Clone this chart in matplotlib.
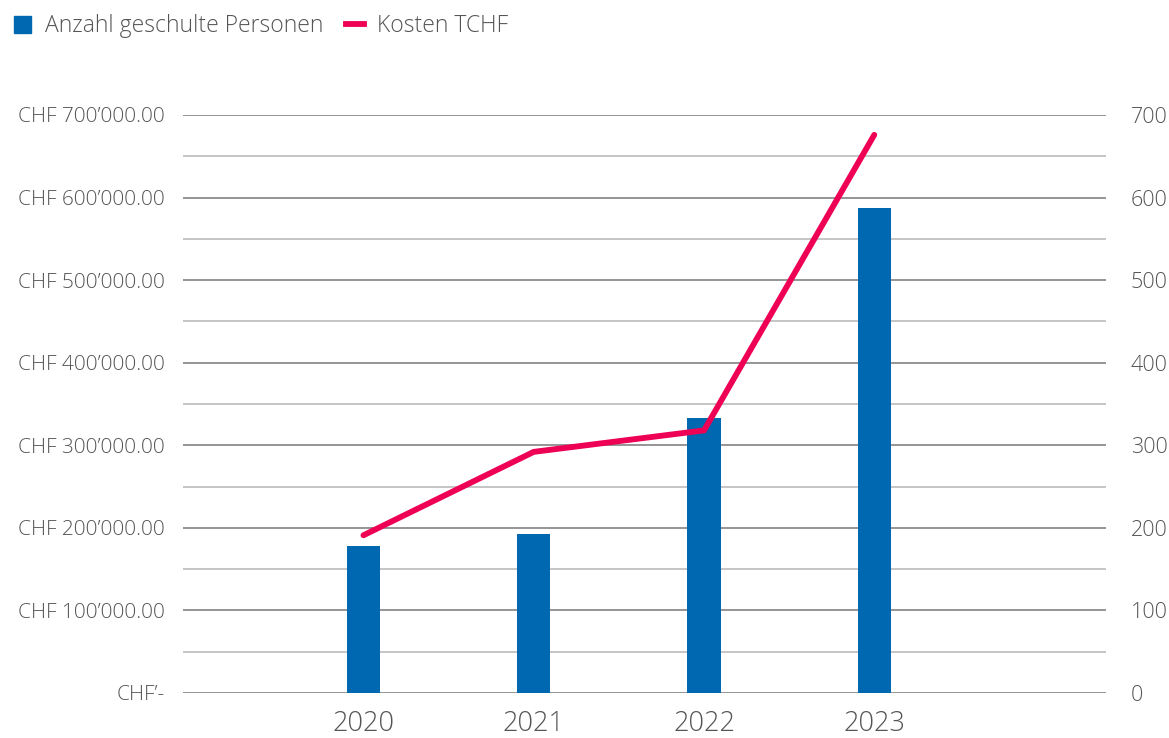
import numpy as np
import matplotlib.pyplot as plt
from matplotlib.ticker import FuncFormatter, MultipleLocator
from matplotlib.patches import Patch
from matplotlib.lines import Line2D

plt.rcParams['font.family'] = ['Open Sans', 'DejaVu Sans']
plt.rcParams['font.weight'] = 'light'

years = ['2020', '2021', '2022', '2023']
personen = [178, 193, 333, 587]
kosten = [191000, 292000, 318000, 676000]

blue = '#0067B1'
pink = '#EE0055'
grey_txt = '#555555'

fig = plt.figure(figsize=(11.69, 7.38), dpi=100)
ax2 = fig.add_axes([0.1565, 0.061, 0.7895, 0.7832])
ax = ax2.twinx()
ax.yaxis.tick_left()
ax2.yaxis.tick_right()
ax.set_zorder(ax2.get_zorder() + 1)
ax.patch.set_visible(False)

x = np.arange(len(years))
ax2.bar(x, personen, width=0.194, color=blue, zorder=3)
ax.plot(x, kosten, color=pink, lw=4.2, solid_capstyle='round', solid_joinstyle='miter')

ax2.set_ylim(0, 700)
ax.set_ylim(0, 700000)
ax2.set_xlim(-1.06, 4.36)

ax2.yaxis.set_major_locator(MultipleLocator(100))
ax2.yaxis.set_minor_locator(MultipleLocator(50))
ax.yaxis.set_major_locator(MultipleLocator(100000))
ax2.grid(which='major', axis='y', color='#8c8c8c', lw=1.3, zorder=0)
ax2.grid(which='minor', axis='y', color='#c0c0c0', lw=1.3, zorder=0)
ax2.set_axisbelow(True)


def chf(v, pos):
    if v == 0:
        return 'CHF\u2019-'
    s = f'{v:,.2f}'.replace(',', '\u2019')
    return 'CHF ' + s


ax.yaxis.set_major_formatter(FuncFormatter(chf))
ax2.set_xticks(x)
ax2.set_xticklabels(years)

for a in (ax, ax2):
    for sp in a.spines.values():
        sp.set_visible(False)
ax2.tick_params(axis='y', which='both', length=0, pad=18, labelsize=15.5, labelcolor=grey_txt)
ax2.tick_params(axis='x', length=0, pad=12, labelsize=19.5, labelcolor=grey_txt)
ax.tick_params(axis='y', length=0, pad=13, labelsize=15, labelcolor=grey_txt)

handles = [Patch(color=blue), Line2D([], [], color=pink, lw=4.2)]
fig.legend(handles, ['Anzahl geschulte Personen', 'Kosten TCHF'], loc='upper left',
           bbox_to_anchor=(0.0043, 0.993), borderaxespad=0.0, ncol=2, frameon=False,
           fontsize=16.5, labelcolor=grey_txt, handlelength=0.75, handleheight=0.75,
           columnspacing=1.0, handletextpad=0.6)

fig.savefig('out.png', dpi=100)
